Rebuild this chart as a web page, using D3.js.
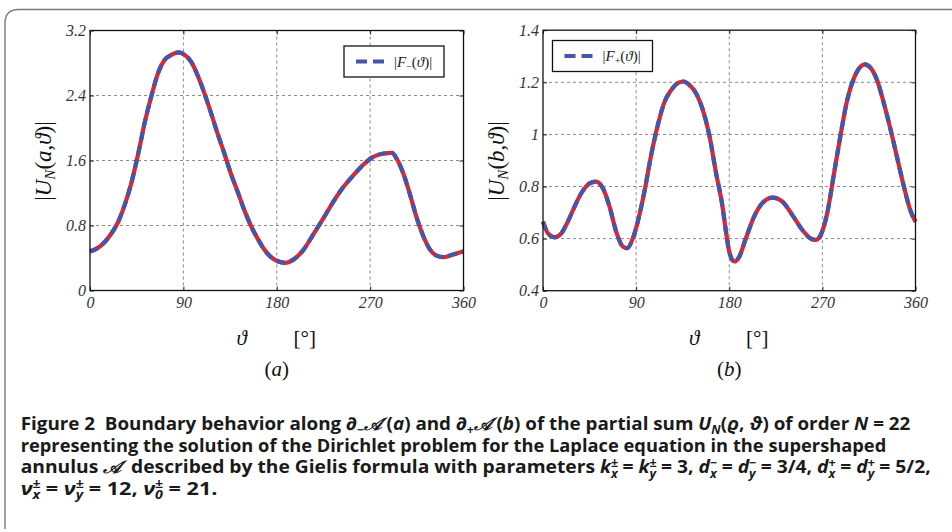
<!DOCTYPE html>
<html>
<head>
<meta charset="utf-8">
<script src="https://cdn.jsdelivr.net/npm/d3@7"></script>
<style>
  body { margin: 0; background: #fff; }
  svg { display: block; }
</style>
</head>
<body>
<script>
// boundary values, theta in degrees
const thetaMinus = [0, 10, 20, 27, 33.6, 40, 46.4, 52.8, 59.3, 65.7, 72, 78.5, 85, 91.3, 97.7, 104, 110.5, 117, 123,
  129.7, 136, 142.5, 149, 155, 161.7, 168, 174.5, 181, 188, 196, 205.7, 215, 225, 234.6, 244, 254, 263.6, 273,
  283, 291, 295.7, 302, 308.6, 315, 321.4, 327.9, 334, 340.7, 347, 353.6, 360];
const valueMinus = [0.48, 0.545, 0.69, 0.84, 1.06, 1.33, 1.68, 2.07, 2.40, 2.68, 2.84, 2.90, 2.93, 2.90, 2.81, 2.64,
  2.42, 2.17, 1.93, 1.68, 1.43, 1.21, 0.98, 0.80, 0.635, 0.504, 0.41, 0.36, 0.34, 0.38, 0.50, 0.686, 0.89, 1.094,
  1.27, 1.42, 1.55, 1.645, 1.686, 1.694, 1.62, 1.44, 1.175, 0.89, 0.665, 0.50, 0.43, 0.41, 0.43, 0.457, 0.48];

const thetaPlus = [0, 4.8, 11.25, 17.7, 24, 30.5, 37, 45, 51.4, 57.9, 64.3, 70.7, 77, 81.3, 86.8, 91.6, 98, 104.5,
  111, 117, 123.8, 130, 135.6, 141.4, 147.9, 154, 160.7, 167, 173.6, 176.8, 180, 184.8, 189.6, 196, 204, 212,
  221.8, 231.4, 241, 250.7, 258.8, 263.6, 268.4, 274.8, 281, 287.6, 294, 300.4, 306.8, 311, 316.4, 322.8, 329,
  335.6, 342, 348.4, 354.9, 360];
const valuePlus = [0.665, 0.62, 0.605, 0.62, 0.665, 0.723, 0.774, 0.812, 0.819, 0.793, 0.723, 0.627, 0.57, 0.563,
  0.60, 0.665, 0.78, 0.92, 1.036, 1.12, 1.17, 1.196, 1.203, 1.19, 1.158, 1.10, 0.998, 0.857, 0.72, 0.627, 0.55,
  0.512, 0.53, 0.60, 0.684, 0.736, 0.757, 0.742, 0.69, 0.633, 0.60, 0.595, 0.614, 0.70, 0.844, 0.998, 1.132,
  1.215, 1.26, 1.269, 1.256, 1.209, 1.126, 1.024, 0.915, 0.806, 0.71, 0.665];

const xTicks = [0, 90, 180, 270, 360];
const yTicksA = [0, 0.8, 1.6, 2.4, 3.2];
const yTicksB = [0.4, 0.6, 0.8, 1, 1.2, 1.4];

const width = 952;
const height = 532;
const blue = '#4755a6';
const red = '#de2630';
const serif = '"Liberation Serif", "DejaVu Serif", serif';
const capFont = '"Open Sans", "Noto Sans", sans-serif';

let svg = d3.select('body')
  .append('svg')
  .attr('width', width)
  .attr('height', height);

svg.append('rect').attr('width', width).attr('height', height).attr('fill', '#fff');

// frame with rounded top-left corner
svg.append('path')
  .attr('d', 'M5,529 V23 Q5,9.5 18.5,9.5 H952')
  .attr('fill', 'none')
  .attr('stroke', '#7a7a7a')
  .attr('stroke-width', 1.4);

const fmt = (d) => String(+d.toFixed(1));

function panel(o) {
  let x = d3.scaleLinear().domain([0, 360]).range([o.left, o.right]);
  let y = d3.scaleLinear().domain(o.yDomain).range([o.bottom, o.top]);
  let g = svg.append('g');

  // dotted grid
  g.selectAll('.vgrid')
    .data(xTicks.slice(1, -1))
    .enter()
    .append('line')
    .attr('x1', (d) => x(d)).attr('x2', (d) => x(d))
    .attr('y1', o.top).attr('y2', o.bottom)
    .attr('stroke', '#8a8a8a').attr('stroke-width', 1).attr('stroke-dasharray', '3,3');
  g.selectAll('.hgrid')
    .data(o.yTicks.slice(1, -1))
    .enter()
    .append('line')
    .attr('x1', o.left).attr('x2', o.right)
    .attr('y1', (d) => y(d)).attr('y2', (d) => y(d))
    .attr('stroke', '#8a8a8a').attr('stroke-width', 1).attr('stroke-dasharray', '3,3');

  // inward ticks on all sides, labels bottom and left
  let bottom = g.append('g').attr('transform', `translate(0,${o.bottom})`)
    .call(d3.axisBottom(x).tickValues(xTicks).tickSize(-4).tickPadding(6).tickFormat(fmt));
  let left = g.append('g').attr('transform', `translate(${o.left},0)`)
    .call(d3.axisLeft(y).tickValues(o.yTicks).tickSize(-4).tickPadding(4).tickFormat(fmt));
  g.append('g').attr('transform', `translate(0,${o.top})`)
    .call(d3.axisTop(x).tickValues(xTicks).tickSize(-4).tickFormat(''));
  g.append('g').attr('transform', `translate(${o.right},0)`)
    .call(d3.axisRight(y).tickValues(o.yTicks).tickSize(-4).tickFormat(''));
  g.selectAll('.domain').remove();
  g.selectAll('.tick line').attr('stroke', '#222');
  [bottom, left].forEach((a) => {
    a.selectAll('text')
      .attr('fill', '#333')
      .style('font-family', serif)
      .style('font-style', 'italic')
      .style('font-size', '16px');
  });

  // solid red underneath, blue dashes on top
  let line = d3.line()
    .x((d) => x(d[0]))
    .y((d) => y(d[1]))
    .curve(d3.curveMonotoneX);
  let pts = d3.zip(o.theta, o.values);
  g.append('path').attr('d', line(pts))
    .attr('fill', 'none').attr('stroke', red).attr('stroke-width', 4.2);
  g.append('path').attr('d', line(pts))
    .attr('fill', 'none').attr('stroke', blue).attr('stroke-width', 4.2)
    .attr('stroke-dasharray', '9,5');

  // box
  g.append('rect')
    .attr('x', o.left).attr('y', o.top)
    .attr('width', o.right - o.left).attr('height', o.bottom - o.top)
    .attr('fill', 'none').attr('stroke', '#111').attr('stroke-width', 1.3);

  // legend
  let lg = g.append('g').attr('transform', `translate(${o.legend[0]},${o.legend[1]})`);
  lg.append('rect').attr('width', 100).attr('height', 31)
    .attr('fill', '#fff').attr('stroke', '#111').attr('stroke-width', 1.3);
  lg.append('line').attr('x1', 12).attr('x2', 40).attr('y1', 15.5).attr('y2', 15.5)
    .attr('stroke', blue).attr('stroke-width', 4).attr('stroke-dasharray', '11,6');
  let lt = lg.append('text').attr('x', 50).attr('y', 20.5)
    .style('font-family', serif).style('font-size', '15px').attr('fill', '#222');
  lt.append('tspan').text('|');
  lt.append('tspan').style('font-style', 'italic').text('F');
  lt.append('tspan').attr('dy', 3).style('font-size', '10px').text(o.sign);
  lt.append('tspan').attr('dy', -3).text('(');
  lt.append('tspan').style('font-style', 'italic').text('ϑ');
  lt.append('tspan').text(')|');

  // y label
  let cx = o.ylabel[0], cy = o.ylabel[1];
  let yl = g.append('text')
    .attr('transform', `translate(${cx},${cy}) rotate(-90)`)
    .attr('text-anchor', 'middle')
    .style('font-family', serif).style('font-size', '23px').attr('fill', '#111');
  yl.append('tspan').text('|');
  yl.append('tspan').style('font-style', 'italic').text('U');
  yl.append('tspan').attr('dy', 4).style('font-style', 'italic').style('font-size', '15px').text('N');
  yl.append('tspan').attr('dy', -4).text('(');
  yl.append('tspan').style('font-style', 'italic').text(o.arg);
  yl.append('tspan').text(',');
  yl.append('tspan').style('font-style', 'italic').text('ϑ');
  yl.append('tspan').text(')|');

  // x label
  let mid = o.left + (o.right - o.left) / 2;
  g.append('text').attr('x', mid - 35).attr('y', 345).attr('text-anchor', 'middle')
    .style('font-family', serif).style('font-size', '21px').style('font-style', 'italic')
    .attr('fill', '#111').text('ϑ');
  g.append('text').attr('x', mid + 28).attr('y', 345).attr('text-anchor', 'middle')
    .style('font-family', serif).style('font-size', '21px')
    .attr('fill', '#111').text('[°]');
  let sub = g.append('text').attr('x', mid).attr('y', 376).attr('text-anchor', 'middle')
    .style('font-family', serif).style('font-size', '21px').attr('fill', '#111');
  sub.append('tspan').text('(');
  sub.append('tspan').style('font-style', 'italic').text(o.arg);
  sub.append('tspan').text(')');
}

panel({
  left: 90, right: 463.5, top: 30.5, bottom: 290.5,
  yDomain: [0, 3.2], yTicks: yTicksA,
  theta: thetaMinus, values: valueMinus,
  legend: [344, 46], sign: '−', arg: 'a', ylabel: [51, 161]
});
panel({
  left: 543, right: 915.5, top: 30.2, bottom: 290.7,
  yDomain: [0.4, 1.4], yTicks: yTicksB,
  theta: thetaPlus, values: valuePlus,
  legend: [552.5, 40.5], sign: '+', arg: 'b', ylabel: [504, 161]
});

// caption: each line is a list of [text, style] pieces, squeezed to the measured width
const I = 'i', S = 'sub', SP = 'subpair';
const captionLines = [
  { y: 430, w: 892, parts: [['Figure 2  Boundary behavior along ∂'], ['−', S], ['𝒜', I], [' ('], ['a', I], [') and ∂'],
    ['+', S], ['𝒜', I], [' ('], ['b', I], [') of the partial sum '], ['U', I], ['N', S + I], ['('], ['ϱ', I], [', '],
    ['ϑ', I], [') of order '], ['N', I], [' = 22']] },
  { y: 451.5, w: 866, parts: [['representing the solution of the Dirichlet problem for the Laplace equation in the supershaped']] },
  { y: 473, w: 912, parts: [['annulus '], ['𝒜', I], ['  described by the Gielis formula with parameters '],
    ['k', I], [['±', 'x'], SP], [' = '], ['k', I], [['±', 'y'], SP], [' = 3, '], ['d', I], [['−', 'x'], SP], [' = '],
    ['d', I], [['−', 'y'], SP], [' = 3/4, '], ['d', I], [['+', 'x'], SP], [' = '], ['d', I], [['+', 'y'], SP], [' = 5/2,']] },
  { y: 494.5, w: 197, parts: [['ν', I], [['±', 'x'], SP], [' = '], ['ν', I], [['±', 'y'], SP], [' = 12, '], ['ν', I],
    [['±', '0'], SP], [' = 21.']] }
];

captionLines.forEach((ln) => {
  let t = svg.append('text')
    .attr('x', 0).attr('y', 0)
    .attr('xml:space', 'preserve')
    .style('white-space', 'pre')
    .style('font-family', capFont).style('font-weight', 700).style('font-size', '17.5px')
    .attr('fill', '#1a1a1a');
  let shift = 0;
  ln.parts.forEach(([txt, st]) => {
    if (st === SP) {
      let a = t.append('tspan').attr('dy', -6.5 - shift).style('font-size', '11.5px').text(txt[0]);
      let aw = a.node().getComputedTextLength();
      t.append('tspan').attr('dx', -aw).attr('dy', 11).style('font-size', '11.5px')
        .style('font-style', 'italic').text(txt[1]);
      shift = 4.5;
      return;
    }
    let s = t.append('tspan');
    if (st && st.startsWith(S)) {
      s.attr('dy', 4 - shift).style('font-size', '11.5px');
      shift = 4;
      if (st.endsWith(I)) s.style('font-style', 'italic');
    } else {
      if (shift) s.attr('dy', -shift);
      shift = 0;
      if (st === I) s.style('font-style', 'italic');
    }
    s.text(txt);
  });
  let bw = t.node().getBBox().width;
  t.attr('transform', `translate(20.7,${ln.y}) scale(${ln.w / bw},1)`);
});
</script>
</body>
</html>
